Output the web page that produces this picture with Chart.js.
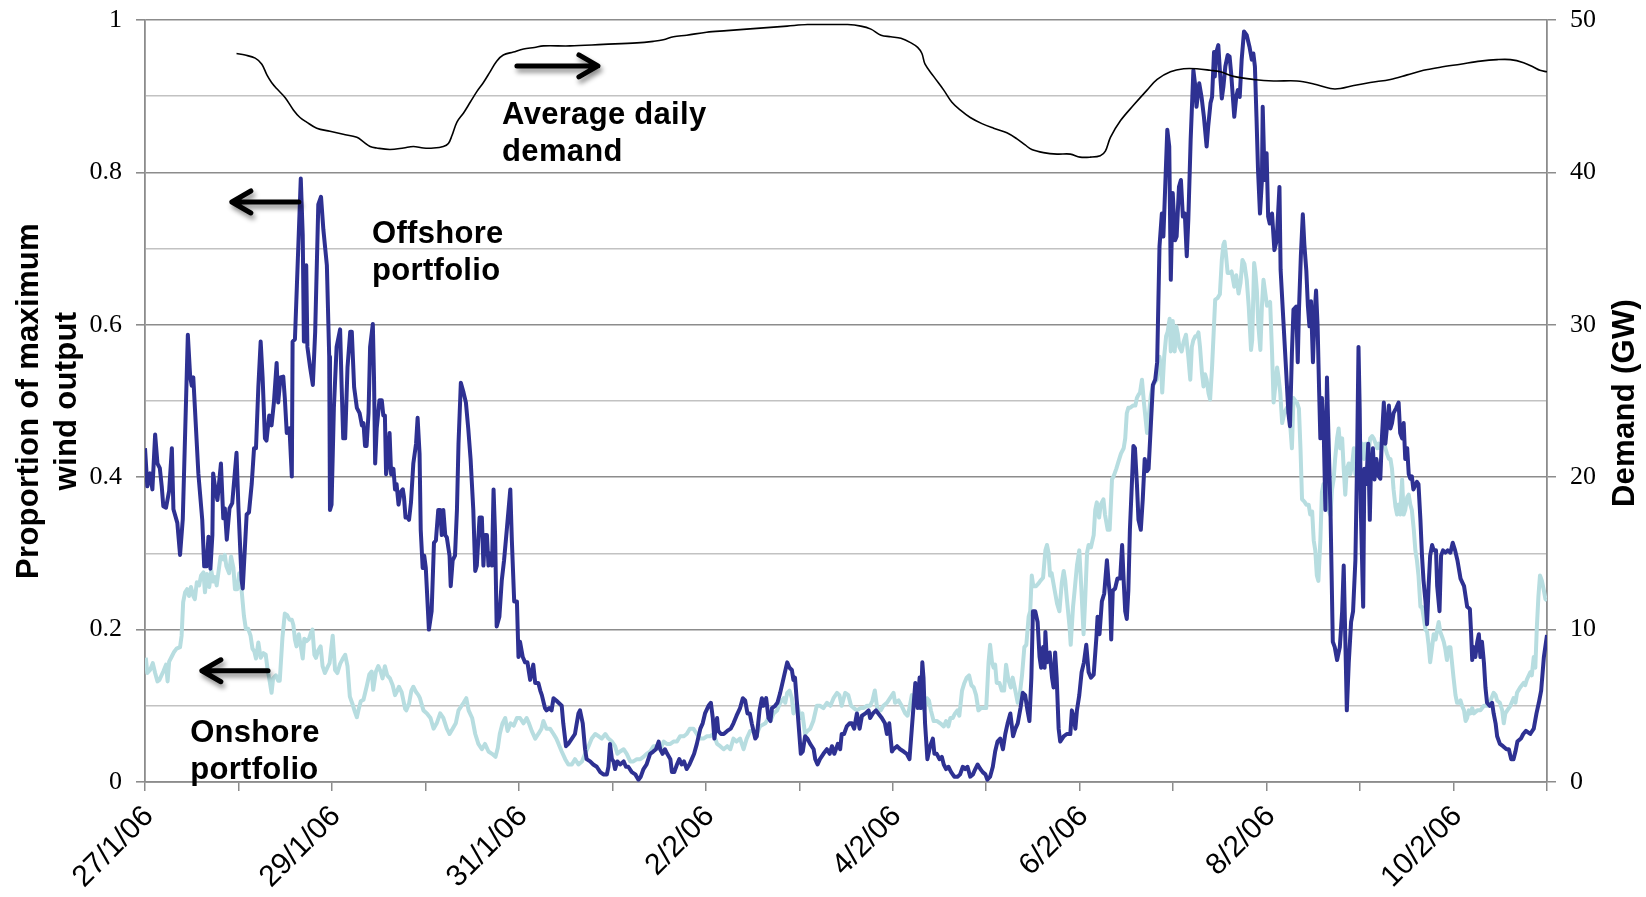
<!DOCTYPE html>
<html>
<head>
<meta charset="utf-8">
<title>Wind output and demand, 27 Jan - 11 Feb 2006</title>
<script src="https://cdn.jsdelivr.net/npm/chart.js@4.4.1/dist/chart.umd.min.js"></script>
<style>
  html, body { margin: 0; padding: 0; background: #ffffff; }
  #wrap { width: 1646px; height: 897px; }
</style>
</head>
<body>
<div id="wrap"><canvas id="chart" width="1646" height="897"></canvas></div>
<script>
// Date labels on every second day tick (ticks are one day apart)
const dateLabels = ['27/1/06', '29/1/06', '31/1/06', '2/2/06', '4/2/06', '6/2/06', '8/2/06', '10/2/06'];

// Hours since 27/1/06 00:00 and proportion of maximum output, offshore portfolio
const offshoreHours = [
  0.0,0.6,1.3,1.9,2.6,3.2,3.8,4.3,4.7,5.4,6.2,6.9,7.3,8.3,9.0,9.7,11.0,11.6,12.0,12.4,13.7,14.7,15.2,15.8,16.3,16.8,17.3,17.5,18.1,18.6,19.5,20.1,20.5,21.0,21.7,22.4,23.5,24.0,24.8,25.1,
  26.1,26.7,27.4,28.0,28.5,29.1,29.7,30.2,30.8,31.2,31.9,32.5,33.1,33.8,34.2,34.8,35.5,35.9,36.4,37.1,37.7,37.9,38.5,39.0,40.0,40.5,40.8,41.4,41.7,42.4,43.1,43.7,44.5,45.2,45.8,46.7,47.3,47.5,47.9,
  48.5,49.2,50.1,50.5,50.9,51.4,52.0,52.7,53.1,53.7,54.4,55.1,55.7,56.1,56.5,56.9,57.4,57.8,58.5,58.8,59.1,59.5,60.2,60.8,61.2,61.6,61.9,62.2,62.8,63.2,63.8,64.2,64.6,65.1,65.7,66.2,66.5,66.9,67.4,67.8,68.3,68.9,69.6,70.0,70.5,70.8,71.3,71.7,72.1,
  72.9,73.6,74.2,74.7,75.3,75.8,76.2,76.6,77.1,77.5,78.2,78.5,79.0,79.6,80.1,80.5,81.1,81.8,82.4,83.0,83.6,84.3,84.8,85.2,85.9,86.5,86.9,87.3,87.8,88.2,88.6,89.1,89.5,89.9,90.3,91.0,91.6,92.2,92.9,93.8,94.2,94.8,95.5,95.9,
  96.3,97.0,97.6,98.2,98.9,99.7,100.2,101.0,101.5,101.9,102.7,103.1,103.8,104.4,104.9,105.6,107.0,107.4,108.1,108.7,110.4,111.3,111.7,112.4,113.0,113.4,114.3,115.1,116.0,116.9,117.7,118.6,119.0,119.4,119.9,
  120.3,120.7,121.3,122.0,122.9,123.5,124.1,125.0,125.9,126.7,127.3,128.0,128.8,129.7,130.5,131.2,131.9,132.3,132.9,133.5,134.1,134.9,135.3,135.9,136.6,137.2,137.8,138.4,139.1,139.8,140.4,141.0,141.7,142.6,143.2,
  143.8,144.7,145.3,145.8,146.2,146.9,147.2,147.9,148.6,149.5,150.4,151.1,151.9,152.8,153.5,154.1,154.7,155.3,155.8,156.7,157.1,157.8,158.4,158.8,159.5,160.1,160.6,161.0,161.8,162.4,163.1,164.0,164.9,165.5,166.1,166.5,166.9,167.4,
  168.4,168.9,169.5,170.1,170.8,171.7,172.1,172.7,173.3,174.2,175.1,175.8,176.4,177.0,177.9,178.5,178.9,179.5,180.2,180.9,181.5,182.1,182.8,183.5,184.1,185.0,185.8,186.2,186.9,187.7,188.3,189.2,190.0,190.5,191.1,191.8,192.2,193.1,
  193.9,194.8,195.6,196.3,196.9,197.8,198.4,198.9,199.2,199.6,199.9,200.3,200.9,201.6,202.3,202.7,203.3,204.0,204.6,205.1,205.7,206.3,207.0,207.8,208.7,209.3,210.0,210.6,211.2,211.9,212.6,213.2,213.8,214.5,215.1,215.8,216.3,217.0,
  217.7,218.3,218.9,219.6,220.3,220.9,221.5,222.2,222.9,223.5,224.1,224.8,225.4,226.0,226.6,227.1,227.6,228.0,228.6,229.2,229.7,230.1,230.6,231.0,231.2,231.6,232.3,232.9,233.3,233.7,234.1,234.6,235.0,235.9,236.7,237.6,238.0,238.5,
  238.9,239.3,239.9,240.5,241.1,241.7,242.3,242.9,243.6,244.3,244.6,245.1,245.7,246.3,247.0,247.4,247.8,248.1,248.5,249.1,249.7,250.4,250.9,251.3,251.7,252.1,252.5,252.9,253.4,253.8,254.2,254.7,255.1,255.7,256.2,256.7,257.3,257.7,
  258.3,258.8,259.4,259.9,260.5,261.1,261.5,262.5,263.0,263.4,263.9,264.5,264.9,265.5,266.0,266.5,267.0,267.5,267.9,268.5,269.2,269.6,270.0,270.7,271.3,271.9,272.6,273.0,273.6,274.0,274.5,274.7,275.0,275.6,276.0,276.5,276.9,277.4,
  278.0,278.5,278.9,279.7,280.2,280.6,281.1,281.6,282.2,282.9,283.6,284.2,284.6,285.0,285.4,285.8,286.3,286.8,287.0,287.5,288.0,288.4,288.8,289.4,290.0,290.6,291.3,291.6,292.3,293.0,293.6,294.0,294.5,294.9,295.6,
  296.0,296.3,296.8,297.3,297.7,298.2,298.6,299.0,299.4,299.9,300.3,300.7,301.1,301.5,301.8,302.2,302.7,303.1,303.5,303.9,304.4,305.0,305.5,306.1,306.8,307.4,307.8,308.2,308.6,309.1,309.7,310.2,310.8,311.2,311.6,311.9,312.2,312.8,
  313.1,313.6,314.1,314.5,314.8,315.3,315.7,316.2,316.8,317.2,317.6,318.1,318.5,319.0,319.4,319.8,320.2,320.6,321.3,321.9,322.3,322.8,323.2,323.6,324.1,324.5,324.9,325.3,325.7,326.6,327.0,327.5,327.9,328.3,328.8,329.2,329.6,330.0,
  330.5,330.9,331.5,331.8,332.4,332.8,333.3,333.9,334.5,335.2,335.8,336.4,337.0,337.8,338.7,339.5,340.2,340.5,340.8,341.2,341.6,342.1,342.5,342.9,343.3,343.8,344.2,344.6,345.3,345.9,346.3,346.8,347.2,347.9,348.7,349.6,350.2,350.8,
  351.4,351.9,352.4,353.3,353.9,354.6,355.7,356.6,357.3,357.9,358.5,359.2,360.0
];
const offshoreOutput = [
  0.438,0.388,0.405,0.384,0.456,0.418,0.412,0.388,0.362,0.360,0.382,0.438,0.358,0.340,0.298,0.345,0.587,0.532,0.520,0.531,0.405,0.344,0.283,0.283,0.322,0.280,0.324,0.405,0.383,0.370,0.418,0.346,0.359,0.318,0.359,0.366,0.432,0.359,0.265,0.254,
  0.351,0.354,0.391,0.438,0.438,0.518,0.578,0.531,0.451,0.448,0.481,0.468,0.498,0.550,0.498,0.531,0.532,0.504,0.458,0.464,0.401,0.578,0.581,0.651,0.792,0.718,0.578,0.678,0.571,0.544,0.521,0.591,0.758,0.768,0.725,0.678,0.558,0.357,0.364,
  0.491,0.571,0.594,0.518,0.451,0.451,0.544,0.591,0.591,0.518,0.491,0.484,0.468,0.471,0.441,0.441,0.484,0.571,0.601,0.531,0.418,0.464,0.501,0.501,0.481,0.481,0.404,0.414,0.458,0.404,0.411,0.384,0.391,0.364,0.381,0.384,0.374,0.347,0.347,0.344,0.367,0.418,0.444,0.478,0.431,0.331,0.281,0.297,0.281,
  0.200,0.224,0.314,0.317,0.357,0.357,0.324,0.357,0.324,0.321,0.297,0.257,0.291,0.297,0.357,0.444,0.524,0.511,0.498,0.464,0.424,0.357,0.277,0.284,0.347,0.347,0.284,0.324,0.324,0.284,0.300,0.284,0.384,0.324,0.204,0.217,0.264,0.291,0.331,0.384,0.317,0.237,0.237,0.164,
  0.184,0.164,0.157,0.157,0.134,0.154,0.130,0.130,0.120,0.114,0.097,0.094,0.097,0.094,0.110,0.107,0.100,0.077,0.047,0.050,0.063,0.090,0.094,0.077,0.043,0.030,0.027,0.023,0.020,0.013,0.010,0.010,0.020,0.050,0.030,
  0.027,0.017,0.027,0.023,0.027,0.020,0.020,0.013,0.010,0.003,0.007,0.017,0.023,0.037,0.040,0.043,0.053,0.043,0.037,0.043,0.037,0.030,0.013,0.013,0.023,0.030,0.023,0.027,0.017,0.023,0.030,0.037,0.050,0.070,0.077,
  0.090,0.100,0.104,0.084,0.057,0.084,0.067,0.063,0.063,0.067,0.070,0.077,0.087,0.097,0.110,0.107,0.090,0.090,0.077,0.057,0.060,0.094,0.110,0.100,0.110,0.084,0.080,0.097,0.100,0.104,0.117,0.137,0.157,0.150,0.147,0.134,0.137,0.104,
  0.037,0.040,0.060,0.057,0.050,0.043,0.030,0.023,0.030,0.037,0.043,0.037,0.047,0.037,0.050,0.043,0.063,0.063,0.073,0.077,0.077,0.070,0.090,0.070,0.087,0.090,0.094,0.084,0.090,0.094,0.090,0.084,0.077,0.063,0.077,0.040,0.043,0.047,
  0.043,0.040,0.037,0.030,0.070,0.130,0.097,0.137,0.097,0.157,0.137,0.077,0.030,0.047,0.057,0.037,0.037,0.030,0.033,0.023,0.017,0.020,0.013,0.007,0.007,0.010,0.020,0.017,0.020,0.007,0.010,0.017,0.023,0.017,0.013,0.010,0.003,0.007,
  0.020,0.040,0.053,0.057,0.043,0.063,0.077,0.090,0.060,0.070,0.077,0.097,0.117,0.114,0.094,0.080,0.137,0.224,0.224,0.210,0.164,0.150,0.177,0.150,0.197,0.157,0.170,0.137,0.124,0.170,0.137,0.070,0.053,0.060,0.063,0.063,0.094,0.084,
  0.070,0.094,0.114,0.144,0.157,0.180,0.144,0.137,0.141,0.190,0.217,0.194,0.237,0.247,0.291,0.264,0.244,0.187,0.251,0.254,0.267,0.267,0.311,0.264,0.224,0.214,0.251,0.331,0.391,0.441,0.438,0.391,0.344,0.331,0.371,0.424,0.408,0.411,
  0.471,0.521,0.528,0.551,0.703,0.746,0.716,0.856,0.834,0.659,0.773,0.711,0.716,0.781,0.790,0.742,0.746,0.690,0.738,0.843,0.934,0.917,0.886,0.917,0.899,0.873,0.834,0.860,0.891,0.899,0.958,0.926,0.956,0.967,0.934,0.897,0.912,0.939,
  0.954,0.952,0.930,0.873,0.899,0.908,0.899,0.948,0.985,0.980,0.965,0.948,0.956,0.939,0.873,0.803,0.746,0.790,0.886,0.790,0.825,0.742,0.733,0.746,0.698,0.711,0.781,0.672,0.606,0.541,0.484,0.467,0.563,0.620,0.624,
  0.551,0.618,0.691,0.745,0.705,0.671,0.625,0.598,0.631,0.551,0.611,0.645,0.598,0.511,0.451,0.504,0.451,0.357,0.531,0.451,0.357,0.184,0.177,0.160,0.177,0.224,0.284,0.190,0.094,0.157,0.210,0.224,0.291,0.411,0.571,0.491,0.357,0.230,
  0.411,0.391,0.444,0.344,0.411,0.438,0.397,0.424,0.401,0.398,0.451,0.498,0.444,0.471,0.494,0.464,0.471,0.484,0.491,0.498,0.458,0.451,0.471,0.424,0.438,0.404,0.398,0.401,0.384,0.394,0.391,0.344,0.297,0.264,0.237,0.207,0.257,0.297,
  0.311,0.304,0.304,0.257,0.224,0.297,0.304,0.301,0.304,0.301,0.314,0.304,0.291,0.267,0.257,0.230,0.227,0.197,0.160,0.177,0.164,0.184,0.194,0.164,0.184,0.157,0.124,0.104,0.100,0.104,0.090,0.077,0.060,0.050,0.047,0.043,0.043,0.030,
  0.030,0.040,0.053,0.057,0.063,0.067,0.063,0.070,0.090,0.104,0.120,0.164,0.193
];

// Hours since 27/1/06 00:00 and proportion of maximum output, onshore portfolio
const onshoreHours = [
  0.2,0.6,1.3,2.0,2.6,3.2,3.7,4.7,5.4,5.8,6.2,6.9,7.5,8.1,9.0,9.4,9.8,10.3,10.8,11.3,11.8,12.4,12.8,13.3,13.9,14.4,15.0,15.4,15.9,16.5,17.0,17.5,18.0,18.4,18.8,19.4,20.1,20.5,20.9,21.6,22.1,22.7,23.1,23.7,24.2,24.8,
  25.4,25.9,26.5,27.1,27.6,28.1,28.5,29.1,29.7,30.4,31.0,31.5,31.9,32.5,32.9,33.6,34.2,34.6,35.3,35.9,36.5,37.1,37.7,38.1,38.5,38.9,39.5,40.0,40.5,40.9,41.5,42.1,42.6,43.0,43.5,43.9,44.5,45.1,45.6,46.2,47.0,47.4,
  48.2,48.8,49.4,50.1,50.8,51.4,52.0,52.6,53.3,53.9,54.4,54.8,55.4,56.1,56.9,57.6,58.2,58.6,59.3,59.9,60.5,61.0,61.6,62.2,62.9,63.6,64.2,64.6,65.2,65.9,66.8,67.1,67.8,68.4,68.9,69.6,70.2,70.6,
  71.5,72.4,73.3,74.1,74.9,75.8,76.6,77.5,78.2,79.0,79.8,80.5,81.8,82.5,83.1,84.0,84.8,85.6,86.5,87.3,88.2,89.1,90.0,90.6,91.1,91.8,92.5,93.1,93.9,94.7,95.5,
  96.3,97.2,98.0,98.6,99.3,100.2,101.0,101.8,102.3,103.1,104.0,104.9,105.6,106.2,107.0,107.9,108.7,109.6,110.4,111.3,112.2,113.0,113.9,114.7,115.6,116.5,117.3,118.2,119.0,119.9,120.7,121.3,122.0,122.9,123.7,124.6,
  125.4,126.3,127.2,128.0,128.8,129.7,130.6,131.5,132.3,133.2,134.0,134.9,135.7,136.6,137.4,138.3,139.1,139.9,140.8,141.7,142.6,143.4,144.3,145.1,146.0,146.9,147.7,148.6,149.5,150.3,151.1,151.9,152.8,153.7,154.5,
  155.4,156.2,157.1,157.9,159.3,160.1,160.6,161.4,162.3,163.1,164.0,164.4,164.9,165.5,166.1,166.5,167.4,168.2,168.8,169.5,170.1,170.8,171.6,172.5,173.3,174.2,175.1,176.0,176.8,177.7,178.3,178.9,179.8,180.6,181.3,
  182.0,182.8,183.7,184.5,185.4,186.2,186.8,187.4,188.0,188.9,189.6,190.5,191.3,192.2,192.6,193.5,194.3,195.2,195.8,196.3,196.9,197.5,198.2,198.9,199.5,200.1,200.8,201.3,201.8,202.5,203.4,204.2,205.1,205.7,206.3,
  206.8,207.4,208.0,208.6,209.1,209.8,210.4,211.0,211.6,212.2,212.8,213.4,214.0,214.7,215.3,216.0,216.6,217.0,217.5,217.9,218.3,218.7,219.4,220.0,220.6,221.1,221.7,222.3,222.8,223.2,224.1,224.6,225.2,225.8,226.3,
  226.9,227.3,227.7,228.1,228.8,229.5,229.9,230.6,231.2,231.6,232.0,232.4,232.8,233.6,234.2,234.8,235.4,235.9,236.3,236.7,237.4,237.7,238.3,238.7,239.3,239.9,240.4,241.0,241.4,241.9,242.3,242.9,243.6,244.0,244.4,
  245.0,245.4,246.1,246.5,247.2,247.7,248.3,248.7,249.4,250.0,250.6,251.3,251.7,252.1,252.5,252.9,253.7,254.3,254.7,255.1,255.5,256.0,256.5,256.9,257.3,257.7,258.3,258.7,259.2,259.8,260.5,260.9,261.2,261.7,262.2,
  262.6,263.1,263.4,263.9,264.4,264.8,265.2,265.6,266.2,266.7,267.3,267.9,268.4,268.8,269.2,269.7,270.1,270.5,270.9,271.4,271.8,272.2,272.6,273.1,273.5,274.0,274.4,274.8,275.4,276.0,276.5,276.9,277.2,277.6,278.0,
  278.5,279.0,279.7,280.2,280.8,281.3,281.8,282.3,282.9,283.4,284.0,284.3,284.8,285.1,285.5,285.9,286.4,286.8,287.2,287.7,288.1,288.9,289.4,289.8,290.2,290.7,291.1,291.5,292.0,292.6,293.2,293.9,294.5,294.9,295.4,
  295.8,296.3,296.7,297.1,297.7,298.2,298.8,299.2,299.7,300.1,300.5,300.9,301.3,301.8,302.2,302.6,303.1,303.5,303.9,304.4,304.8,305.2,305.6,306.1,306.5,306.9,307.4,307.8,308.2,308.6,309.1,309.5,310.0,310.4,310.8,
  311.2,311.7,312.1,312.5,313.0,313.4,313.8,314.2,314.6,315.1,315.5,316.0,316.4,316.8,317.2,317.6,318.1,318.5,318.9,319.4,319.8,320.2,320.6,321.1,321.5,321.9,322.3,322.8,323.2,323.6,324.1,324.5,324.9,325.3,325.8,
  326.2,326.6,327.0,327.5,327.9,328.3,328.8,329.2,329.6,330.0,330.5,330.9,331.4,331.8,332.2,332.6,333.1,333.5,333.9,334.3,334.8,335.2,335.6,336.0,336.5,336.9,337.4,337.8,338.2,338.7,339.1,339.5,339.9,340.4,340.8,
  341.2,342.1,342.9,343.8,344.6,345.5,346.3,346.8,347.2,347.9,348.5,348.9,349.3,349.8,350.6,351.4,351.9,352.3,353.1,354.0,354.4,354.8,355.7,356.1,356.6,357.0,357.4,357.8,358.2,358.7,359.2,359.6,360.0
];
const onshoreOutput = [
  0.163,0.143,0.147,0.156,0.143,0.132,0.134,0.145,0.154,0.132,0.158,0.165,0.171,0.175,0.177,0.192,0.236,0.249,0.253,0.244,0.256,0.244,0.240,0.262,0.258,0.271,0.275,0.249,0.273,0.256,0.278,0.263,0.269,0.258,0.273,0.296,0.292,0.298,0.283,0.274,0.296,0.281,0.253,0.253,0.274,0.252,
  0.218,0.201,0.201,0.192,0.175,0.171,0.162,0.183,0.163,0.169,0.167,0.147,0.136,0.117,0.136,0.140,0.133,0.133,0.190,0.221,0.219,0.213,0.213,0.206,0.187,0.178,0.194,0.178,0.162,0.188,0.185,0.188,0.196,0.200,0.167,0.163,0.173,0.178,0.152,0.143,0.152,0.156,
  0.192,0.147,0.143,0.155,0.162,0.167,0.152,0.112,0.102,0.092,0.085,0.094,0.106,0.108,0.125,0.141,0.145,0.121,0.145,0.152,0.145,0.136,0.152,0.140,0.136,0.127,0.114,0.118,0.125,0.118,0.096,0.094,0.103,0.120,0.125,0.118,0.114,0.110,
  0.094,0.090,0.084,0.070,0.077,0.090,0.084,0.070,0.063,0.070,0.077,0.094,0.104,0.110,0.094,0.084,0.063,0.050,0.043,0.050,0.040,0.037,0.033,0.045,0.063,0.077,0.084,0.067,0.077,0.074,0.084,
  0.084,0.077,0.084,0.077,0.067,0.057,0.063,0.070,0.080,0.070,0.070,0.063,0.057,0.050,0.040,0.030,0.023,0.023,0.030,0.023,0.027,0.037,0.047,0.057,0.063,0.060,0.057,0.063,0.057,0.053,0.047,0.037,0.040,0.043,0.037,0.027,
  0.027,0.030,0.030,0.033,0.037,0.040,0.047,0.047,0.043,0.053,0.050,0.050,0.053,0.053,0.060,0.060,0.063,0.070,0.070,0.063,0.057,0.057,0.060,0.060,0.063,0.050,0.047,0.043,0.047,0.043,0.057,0.053,0.057,0.043,0.057,
  0.067,0.067,0.063,0.073,0.077,0.084,0.080,0.090,0.094,0.104,0.110,0.104,0.117,0.120,0.110,0.090,0.104,0.084,0.090,0.063,0.067,0.070,0.080,0.100,0.100,0.097,0.104,0.100,0.110,0.117,0.114,0.100,0.117,0.114,0.100,
  0.097,0.094,0.097,0.097,0.100,0.100,0.107,0.120,0.097,0.094,0.100,0.104,0.110,0.117,0.104,0.107,0.100,0.090,0.087,0.097,0.114,0.110,0.104,0.097,0.100,0.094,0.110,0.107,0.094,0.080,0.080,0.077,0.073,0.080,0.073,
  0.084,0.084,0.090,0.094,0.087,0.120,0.130,0.137,0.140,0.127,0.124,0.114,0.094,0.097,0.097,0.097,0.157,0.180,0.157,0.150,0.154,0.130,0.130,0.120,0.120,0.154,0.134,0.124,0.137,0.127,0.104,0.114,0.140,0.177,0.180,
  0.217,0.224,0.271,0.257,0.257,0.261,0.264,0.268,0.304,0.311,0.301,0.271,0.274,0.251,0.234,0.224,0.261,0.277,0.264,0.241,0.204,0.180,0.230,0.251,0.284,0.304,0.257,0.194,0.237,0.301,0.311,0.308,0.324,0.357,0.367,
  0.347,0.364,0.371,0.351,0.331,0.331,0.397,0.401,0.411,0.421,0.431,0.438,0.451,0.484,0.491,0.491,0.494,0.494,0.504,0.508,0.511,0.528,0.498,0.478,0.458,0.478,0.508,0.518,0.524,0.528,0.558,0.544,0.511,0.558,0.585,
  0.591,0.608,0.565,0.605,0.565,0.598,0.588,0.571,0.565,0.578,0.587,0.558,0.528,0.571,0.580,0.585,0.585,0.590,0.571,0.537,0.519,0.535,0.528,0.510,0.502,0.545,0.589,0.633,0.635,0.640,0.685,0.705,0.709,0.690,0.668,
  0.668,0.670,0.650,0.665,0.641,0.655,0.685,0.680,0.659,0.625,0.567,0.580,0.681,0.670,0.645,0.598,0.567,0.625,0.659,0.640,0.625,0.630,0.564,0.498,0.518,0.544,0.530,0.511,0.471,0.485,0.491,0.480,0.438,0.504,0.500,
  0.498,0.490,0.438,0.371,0.368,0.364,0.364,0.351,0.355,0.317,0.304,0.271,0.264,0.317,0.380,0.391,0.391,0.385,0.357,0.350,0.384,0.397,0.424,0.451,0.464,0.438,0.451,0.411,0.377,0.411,0.418,0.404,0.418,0.438,0.404,
  0.411,0.431,0.438,0.444,0.424,0.444,0.444,0.434,0.451,0.454,0.451,0.444,0.438,0.444,0.438,0.444,0.451,0.438,0.431,0.424,0.424,0.411,0.384,0.361,0.351,0.364,0.351,0.397,0.351,0.357,0.374,0.377,0.364,0.357,0.331,
  0.304,0.291,0.271,0.230,0.230,0.217,0.200,0.197,0.180,0.157,0.177,0.194,0.187,0.200,0.210,0.197,0.190,0.184,0.174,0.160,0.177,0.177,0.157,0.137,0.114,0.104,0.104,0.107,0.100,0.094,0.080,0.084,0.094,0.090,0.097,
  0.090,0.094,0.094,0.100,0.100,0.107,0.117,0.114,0.107,0.104,0.094,0.077,0.090,0.094,0.100,0.110,0.104,0.117,0.124,0.130,0.127,0.134,0.144,0.140,0.164,0.150,0.204,0.244,0.271,0.264,0.251,0.240,0.238
];

// Hours since 27/1/06 00:00 and average daily demand (GW)
const demandHours = [
  23.5,25.7,28.3,30.0,31.3,32.5,33.8,36.0,38.1,39.8,41.5,44.1,47.5,50.9,54.4,56.1,57.8,59.5,62.9,66.4,68.9,71.5,74.1,76.6,77.9,78.8,80.1,81.8,83.5,85.2,86.9,88.6,90.3,92.0,94.6,97.2,100.0,
  102.3,109.1,117.7,126.3,130.5,133.1,135.7,139.1,144.2,149.4,154.5,159.7,164.9,170.1,175.2,180.4,183.8,186.4,189.0,191.5,194.1,196.7,198.4,199.5,200.3,202.5,205.1,207.2,209.3,211.9,214.9,217.9,
  221.3,223.9,226.0,227.7,230.7,234.2,237.6,240.1,242.7,245.3,246.6,247.9,250.5,253.8,257.3,259.9,263.3,266.7,270.1,273.5,276.1,279.5,284.6,289.8,295.8,300.1,304.4,306.9,310.4,314.6,319.8,
  324.1,328.3,332.6,337.8,342.9,347.2,350.6,354.0,356.6,358.2,360.0
];
const demandGW = [
  47.8,47.7,47.5,47.1,46.4,45.9,45.5,44.9,44.1,43.6,43.3,42.9,42.7,42.5,42.3,42.0,41.7,41.6,41.5,41.6,41.7,41.6,41.6,41.7,41.9,42.4,43.3,43.9,44.6,45.3,45.9,46.6,47.3,47.7,47.9,48.1,48.2,
  48.3,48.3,48.4,48.5,48.6,48.7,48.9,49.0,49.2,49.3,49.4,49.5,49.6,49.7,49.7,49.7,49.6,49.4,49.0,48.9,48.8,48.5,48.2,47.8,47.1,46.3,45.4,44.6,44.1,43.6,43.2,42.9,
  42.6,42.2,41.8,41.5,41.3,41.2,41.2,41.0,41.0,41.1,41.4,42.3,43.4,44.4,45.4,46.1,46.6,46.8,46.8,46.7,46.6,46.3,46.1,46.0,46.0,45.8,45.5,45.5,45.7,45.9,46.1,
  46.4,46.7,46.9,47.1,47.3,47.4,47.4,47.2,46.9,46.7,46.6
];

function toPoints(xs, ys) {
  return xs.map((x, i) => ({ x: x, y: ys[i] }));
}

const AXIS_GREY = '#8c8c8c';
const MINOR_GREY = '#c2c2c2';
const isMajor = v => Math.round(v * 10) % 2 === 0;

// Keep the plot area fixed: scales report no extra overflow padding
function pinVertical(width) {
  return s => { s.width = width; s.paddingTop = 0; s.paddingBottom = 0; };
}

// Text labels with arrows, positioned in data units (hours, proportion)
const callouts = [
  { lines: ['Average daily', 'demand'], hour: 91.7, value: 0.864 },
  { lines: ['Offshore', 'portfolio'], hour: 58.3, value: 0.7075 },
  { lines: ['Onshore', 'portfolio'], hour: 11.6, value: 0.0529 }
];
const arrows = [
  { fromHour: 95.5, toHour: 116.3, value: 0.9397 },
  { fromHour: 39.5, toHour: 22.3, value: 0.7612 },
  { fromHour: 31.6, toHour: 14.6, value: 0.146 }
];

const decorations = {
  id: 'decorations',
  afterDraw(chart) {
    const ctx = chart.ctx;
    const xs = chart.scales.x;
    const ys = chart.scales.y;
    const area = chart.chartArea;

    ctx.save();
    ctx.fillStyle = '#000';
    ctx.font = 'bold 31px "Liberation Sans", Arial, sans-serif';
    ctx.letterSpacing = '0.3px';
    ctx.textAlign = 'left';
    ctx.textBaseline = 'alphabetic';
    callouts.forEach(c => {
      const x = xs.getPixelForValue(c.hour);
      const y = ys.getPixelForValue(c.value);
      c.lines.forEach((t, i) => ctx.fillText(t, x, y + i * 37.5));
    });

    // Axis titles
    const midY = (area.top + area.bottom) / 2;
    ctx.textAlign = 'center';
    ctx.save();
    ctx.translate(38, midY);
    ctx.rotate(-Math.PI / 2);
    ctx.fillText('Proportion of maximum', 0, 0);
    ctx.restore();
    ctx.save();
    ctx.translate(76, midY);
    ctx.rotate(-Math.PI / 2);
    ctx.fillText('wind output', 0, 0);
    ctx.restore();
    ctx.save();
    ctx.translate(1634, midY + 2);
    ctx.rotate(-Math.PI / 2);
    ctx.fillText('Demand (GW)', 0, 0);
    ctx.restore();
    ctx.restore();

    // Arrows with a soft drop shadow
    arrows.forEach(a => {
      const x1 = xs.getPixelForValue(a.fromHour);
      const x2 = xs.getPixelForValue(a.toHour);
      const y = ys.getPixelForValue(a.value);
      const dir = Math.sign(x2 - x1);
      ctx.save();
      ctx.strokeStyle = '#000';
      ctx.lineWidth = 5;
      ctx.lineCap = 'round';
      ctx.lineJoin = 'round';
      ctx.shadowColor = 'rgba(0,0,0,0.45)';
      ctx.shadowBlur = 5;
      ctx.shadowOffsetX = 2;
      ctx.shadowOffsetY = 4;
      ctx.beginPath();
      ctx.moveTo(x1, y);
      ctx.lineTo(x2, y);
      ctx.moveTo(x2 - dir * 19, y - 11);
      ctx.lineTo(x2, y);
      ctx.lineTo(x2 - dir * 19, y + 11);
      ctx.stroke();
      ctx.restore();
    });
  }
};

new Chart(document.getElementById('chart'), {
  type: 'line',
  data: {
    datasets: [
      {
        label: 'Average daily demand',
        data: toPoints(demandHours, demandGW),
        yAxisID: 'y2',
        borderColor: '#000000',
        borderWidth: 1.6,
        pointRadius: 0,
        tension: 0.35,
        order: 0
      },
      {
        label: 'Offshore portfolio',
        data: toPoints(offshoreHours, offshoreOutput),
        yAxisID: 'y',
        borderColor: '#2e3192',
        borderWidth: 4,
        borderJoinStyle: 'round',
        pointRadius: 0,
        tension: 0,
        order: 1
      },
      {
        label: 'Onshore portfolio',
        data: toPoints(onshoreHours, onshoreOutput),
        yAxisID: 'y',
        borderColor: '#b7dde0',
        borderWidth: 4,
        borderJoinStyle: 'round',
        pointRadius: 0,
        tension: 0,
        order: 2
      }
    ]
  },
  options: {
    responsive: false,
    animation: false,
    devicePixelRatio: 1,
    layout: { padding: { top: 20, left: 0, right: 0, bottom: 0 } },
    plugins: { legend: { display: false }, tooltip: { enabled: false } },
    scales: {
      x: {
        type: 'linear',
        position: 'bottom',
        min: 0,
        max: 360,
        afterFit(s) { s.height = 115; s.paddingLeft = 0; s.paddingRight = 0; },
        border: { display: true, color: AXIS_GREY, width: 1.8 },
        grid: { drawOnChartArea: false, drawTicks: true, tickLength: 9, color: AXIS_GREY, lineWidth: 1.5 },
        ticks: {
          stepSize: 24,
          autoSkip: false,
          minRotation: 45,
          maxRotation: 45,
          padding: 8,
          labelOffset: 4,
          color: '#000',
          font: { family: '"Liberation Sans", Arial, sans-serif', size: 30 },
          callback(v) {
            const day = Math.round(v / 24);
            return day % 2 === 0 ? dateLabels[day / 2] : '';
          }
        }
      },
      y: {
        type: 'linear',
        position: 'left',
        min: 0,
        max: 1,
        afterFit: pinVertical(145),
        border: { display: true, color: AXIS_GREY, width: 1.8 },
        grid: {
          drawTicks: true,
          tickLength: 9,
          lineWidth: 1.6,
          color: ctx => isMajor(ctx.tick.value) ? AXIS_GREY : MINOR_GREY,
          tickColor: ctx => isMajor(ctx.tick.value) ? AXIS_GREY : 'rgba(0,0,0,0)'
        },
        ticks: {
          stepSize: 0.1,
          padding: 14,
          color: '#000',
          font: { family: '"Liberation Serif", "Times New Roman", serif', size: 26 },
          callback(v) {
            return isMajor(v) ? String(Math.round(v * 10) / 10) : '';
          }
        }
      },
      y2: {
        type: 'linear',
        position: 'right',
        min: 0,
        max: 50,
        afterFit: pinVertical(99),
        border: { display: true, color: AXIS_GREY, width: 1.8 },
        grid: { drawOnChartArea: false, drawTicks: true, tickLength: 9, color: AXIS_GREY, lineWidth: 1.5 },
        ticks: {
          stepSize: 10,
          padding: 14,
          color: '#000',
          font: { family: '"Liberation Serif", "Times New Roman", serif', size: 26 }
        }
      }
    }
  },
  plugins: [decorations]
});
</script>
</body>
</html>
